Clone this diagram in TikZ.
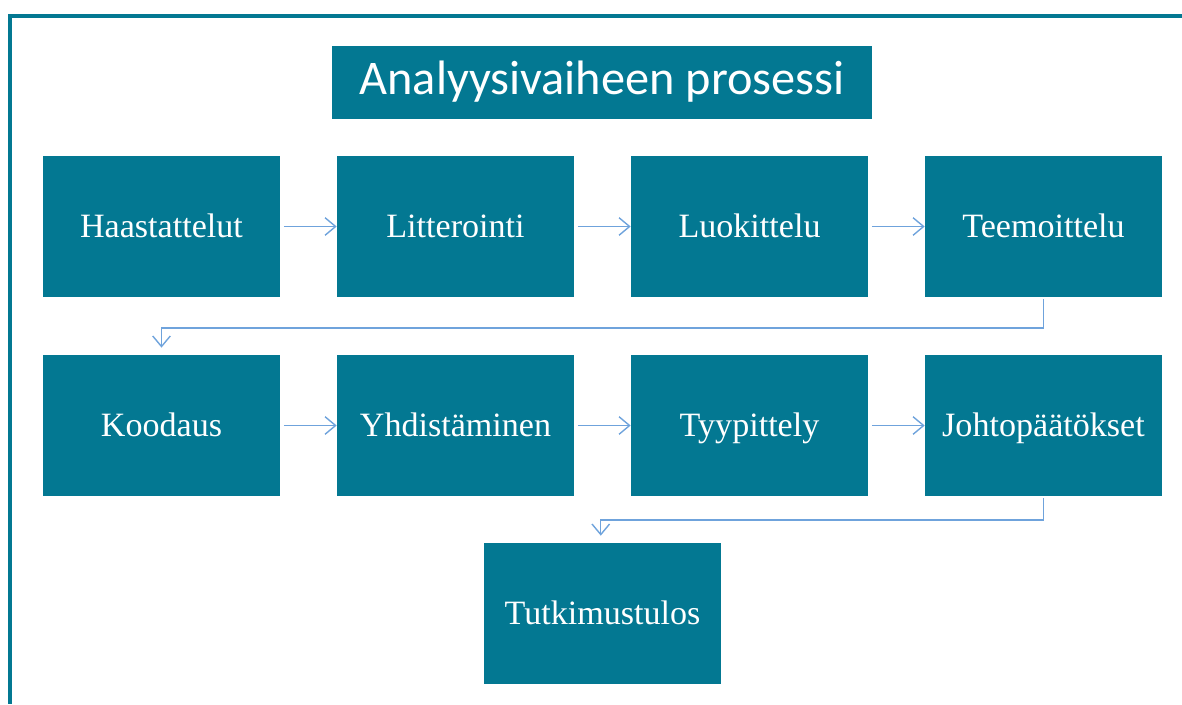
\documentclass[tikz,border=0pt]{standalone}
\usepackage{fontspec}
\setmainfont{Liberation Serif}
\newfontfamily\titlefont{Carlito}
\usetikzlibrary{arrows.meta}
\definecolor{boxteal}{HTML}{037892}
\definecolor{arrowblue}{HTML}{6FA3DC}
\begin{document}
\begin{tikzpicture}[x=0.02cm,y=-0.02cm,
  every node/.style={fill=boxteal, text=white, font=\fontsize{19.4}{23}\selectfont, align=center, minimum width=4.74cm, minimum height=2.82cm, inner sep=0pt, text height=15pt, text depth=3pt},
  link/.style={draw=arrowblue, line width=0.8pt, -{Straight Barb[length=6pt,width=10pt,line width=0.8pt]}}]
\useasboundingbox (0,0) rectangle (1182,704);
% frame
\draw[boxteal, line width=2.2pt] (1182,16) -- (10,16) -- (10,704);
\node[minimum width=10.8cm, minimum height=1.46cm, text height=20pt, text depth=6pt, font=\titlefont\fontsize{27.5}{32}\selectfont] (title) at (602,82.5) {Analyysivaiheen prosessi};
% first row
\node (n1) at (161.5,226.5)  {Haastattelut};
\node (n2) at (455.5,226.5)  {Litterointi};
\node (n3) at (749.5,226.5)  {Luokittelu};
\node (n4) at (1043.5,226.5) {Teemoittelu};
% second row
\node (n5) at (161.5,425.5)  {Koodaus};
\node (n6) at (455.5,425.5)  {Yhdistäminen};
\node (n7) at (749.5,425.5)  {Tyypittely};
\node (n8) at (1043.5,425.5) {Johtopäätökset};
\node (n9) at (602.5,613.5)  {Tutkimustulos};
\draw[link] ([xshift=2pt]n1.east) -- (n2.west);
\draw[link] ([xshift=2pt]n2.east) -- (n3.west);
\draw[link] ([xshift=2pt]n3.east) -- (n4.west);
\draw[link] ([yshift=-1pt]n4.south) -- ++(0,29) -| ([yshift=4pt]n5.north);
\draw[link] ([xshift=2pt]n5.east) -- (n6.west);
\draw[link] ([xshift=2pt]n6.east) -- (n7.west);
\draw[link] ([xshift=2pt]n7.east) -- (n8.west);
\draw[link] ([yshift=-1pt]n8.south) -- ++(0,22) -| ([xshift=-1pt,yshift=4pt]n9.north);
\end{tikzpicture}
\end{document}
